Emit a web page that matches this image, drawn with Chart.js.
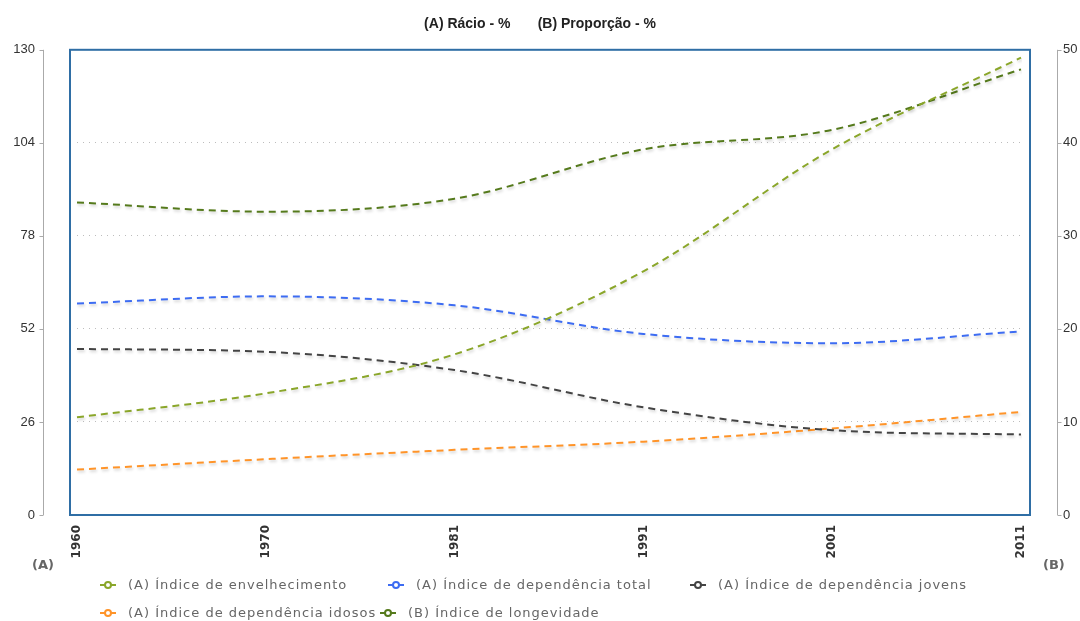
<!DOCTYPE html>
<html>
<head>
<meta charset="utf-8">
<script src="https://cdn.jsdelivr.net/npm/chart.js@4/dist/chart.umd.min.js"></script>
<style>
	html, body { margin: 0; padding: 0; background: #fff; }
	#wrap { position: relative; width: 1080px; height: 621px; }
	#chart { position: absolute; left: 0; top: 0; }
	.side-label { position: absolute; font: bold 13px "DejaVu Sans", sans-serif; color: #666; }
	.legend-item { position: absolute; font: 13px "DejaVu Sans", sans-serif; letter-spacing: 1px; color: #666; white-space: nowrap; display: flex; align-items: center; }
	.legend-item svg { margin-right: 12px; }
</style>
</head>
<body>
<div id="wrap">
	<canvas id="chart" width="1080" height="621"></canvas>
	<div class="side-label" style="left:32px; top:557px;">(A)</div>
	<div class="side-label" style="left:1043px; top:557px;">(B)</div>
	<div id="legend"></div>
</div>
<script>
// 데이터
const years = ['1960', '1970', '1981', '1991', '2001', '2011'];
const envelhecimento = [27.3, 34.0, 44.9, 68.1, 102.2, 127.8];
const depTotal = [59.1, 61.1, 58.6, 50.6, 48.0, 51.3];
const depJovens = [46.4, 45.6, 40.5, 30.1, 23.7, 22.5];
const depIdosos = [12.7, 15.6, 18.2, 20.5, 24.2, 28.8];
const longevidade = [33.6, 32.6, 34.0, 39.3, 41.4, 47.9];

const leftTicks = [0, 26, 52, 78, 104, 130];
const rightTicks = [0, 10, 20, 30, 40, 50];

const seriesNames = [
	'(A) Índice de envelhecimento',
	'(A) Índice de dependência total',
	'(A) Índice de dependência jovens',
	'(A) Índice de dependência idosos',
	'(B) Índice de longevidade'
];
const seriesColors = ['#8aa62a', '#3d6cf2', '#444444', '#ff9429', '#557a1c'];

// 범례 위치 (좌, 상)
const legendPos = [[100, 577], [388, 577], [690, 577], [100, 605], [380, 605]];

// 축선, 테두리 그리는 플러그인
const framePlugin = {
	id: 'frame',
	beforeDatasetsDraw(chart) {
		const { ctx, chartArea } = chart;
		ctx.save();
		ctx.strokeStyle = '#2f6ea5';
		ctx.lineWidth = 2;
		ctx.strokeRect(chartArea.left - 7, chartArea.top, chartArea.right - chartArea.left + 16, chartArea.bottom - chartArea.top);

		ctx.strokeStyle = '#aaaaaa';
		ctx.lineWidth = 1;
		const yA = chart.scales.yA;
		const yB = chart.scales.yB;
		const lx = chartArea.left - 33.5;
		const rx = chartArea.right + 36.5;
		ctx.beginPath();
		ctx.moveTo(lx, chartArea.top);
		ctx.lineTo(lx, chartArea.bottom);
		leftTicks.forEach(v => {
			const y = Math.round(yA.getPixelForValue(v)) + 0.5;
			ctx.moveTo(lx - 4, y);
			ctx.lineTo(lx, y);
		});
		ctx.moveTo(rx, chartArea.top);
		ctx.lineTo(rx, chartArea.bottom);
		rightTicks.forEach(v => {
			const y = Math.round(yB.getPixelForValue(v)) + 0.5;
			ctx.moveTo(rx, y);
			ctx.lineTo(rx + 4, y);
		});
		ctx.stroke();
		ctx.restore();
	},
	beforeDatasetDraw(chart) {
		const ctx = chart.ctx;
		ctx.save();
		ctx.shadowColor = 'rgba(0,0,0,0.18)';
		ctx.shadowBlur = 3;
		ctx.shadowOffsetX = 1;
		ctx.shadowOffsetY = 2;
	},
	afterDatasetDraw(chart) {
		chart.ctx.restore();
	}
};

function makeSet(i, data, axis) {
	return {
		label: seriesNames[i],
		data: data,
		yAxisID: axis,
		borderColor: seriesColors[i],
		backgroundColor: seriesColors[i],
		borderWidth: 2,
		borderDash: [7, 5],
		pointRadius: 0,
		cubicInterpolationMode: 'monotone',
		fill: false
	};
}

const chart = new Chart(document.getElementById('chart'), {
	type: 'line',
	data: {
		labels: years,
		datasets: [
			makeSet(0, envelhecimento, 'yA'),
			makeSet(1, depTotal, 'yA'),
			makeSet(2, depJovens, 'yA'),
			makeSet(3, depIdosos, 'yA'),
			makeSet(4, longevidade, 'yB')
		]
	},
	options: {
		responsive: false,
		animation: false,
		layout: { padding: 0 },
		plugins: {
			legend: { display: false },
			tooltip: { enabled: false },
			title: {
				display: true,
				text: '(A) Rácio - %       (B) Proporção - %',
				color: '#222',
				font: { family: 'Liberation Sans', size: 14, weight: 'bold', lineHeight: 1.2 },
				padding: { top: 14, bottom: 17.2 }
			}
		},
		scales: {
			x: {
				offset: false,
				grid: { display: false, drawTicks: false },
				border: { display: false },
				ticks: {
					minRotation: 90, maxRotation: 90, padding: 10,
					color: '#333',
					font: { family: 'DejaVu Sans', size: 12, weight: 'bold' }
				},
				afterFit: s => { s.height = 106; }
			},
			yA: {
				position: 'left',
				min: 0, max: 130,
				afterBuildTicks: s => { s.ticks = leftTicks.map(v => ({ value: v })); },
				grid: {
					drawTicks: false,
					color: c => (c.tick && c.tick.value > 0 && c.tick.value < 130) ? '#bdbdbd' : 'rgba(0,0,0,0)',
					lineWidth: 1
				},
				border: { display: false, dash: [1, 5] },
				ticks: { padding: 42, color: '#333', font: { family: 'Liberation Sans', size: 13 } },
				afterFit: s => { s.width = 77; }
			},
			yB: {
				position: 'right',
				min: 0, max: 50,
				afterBuildTicks: s => { s.ticks = rightTicks.map(v => ({ value: v })); },
				grid: { drawOnChartArea: false, drawTicks: false },
				border: { display: false },
				ticks: { padding: 42, color: '#333', font: { family: 'Liberation Sans', size: 13 } },
				afterFit: s => { s.width = 59; }
			}
		}
	},
	plugins: [framePlugin]
});

// 범례
const legendBox = document.getElementById('legend');
chart.data.datasets.forEach((ds, i) => {
	const item = document.createElement('div');
	item.className = 'legend-item';
	item.style.left = legendPos[i][0] + 'px';
	item.style.top = legendPos[i][1] + 'px';
	const c = ds.borderColor;
	item.innerHTML = `<svg width="16" height="10"><line x1="0" y1="5" x2="16" y2="5" stroke="${c}" stroke-width="2"/><circle cx="8" cy="5" r="3" fill="#fff" stroke="${c}" stroke-width="2"/></svg><span>${ds.label}</span>`;
	legendBox.appendChild(item);
});
</script>
</body>
</html>
